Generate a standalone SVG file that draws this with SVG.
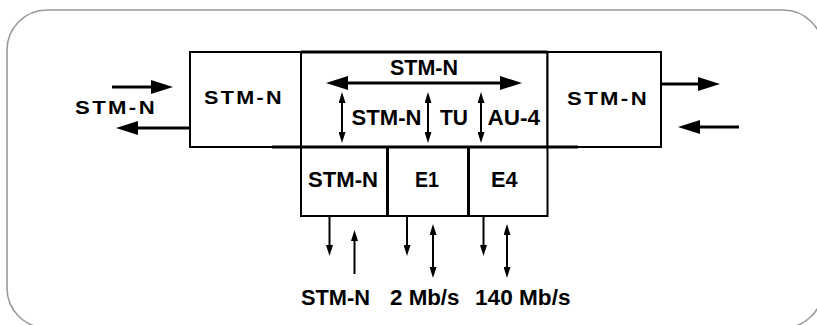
<svg xmlns="http://www.w3.org/2000/svg" width="817" height="325" viewBox="0 0 817 325">
<style>
.frame{fill:none;stroke:#999;stroke-width:1.6}
.box{fill:#fff;stroke:#000;stroke-width:2}
.thick{stroke:#000;stroke-width:3;fill:none}
.t{font-family:"Liberation Sans",Arial,Helvetica,sans-serif;font-weight:bold;fill:#000}
.sp{font-size:18.5px;letter-spacing:2px}
.n{font-size:21.5px}
.big{stroke:#000;stroke-width:3;fill:none}
.sm{stroke:#000;stroke-width:2;fill:none}
</style>
<defs>
<marker id="bh" viewBox="0 0 22 14" refX="14" refY="7" markerWidth="22" markerHeight="14" markerUnits="userSpaceOnUse" orient="auto-start-reverse">
<path d="M0,0 L22,7 L0,14 z" fill="#000"/>
</marker>
<marker id="sh" viewBox="0 0 11 7" refX="5" refY="3.5" markerWidth="11" markerHeight="7" markerUnits="userSpaceOnUse" orient="auto-start-reverse">
<path d="M0,0 L11,3.5 L0,7 z" fill="#000"/>
</marker>
</defs>
<rect class="frame" x="7" y="10" width="816" height="318" rx="40" ry="40"/>

<g id="node-left">
<rect class="box" x="190" y="52" width="111" height="95"/>
<text class="t sp" x="204" y="104" textLength="80" lengthAdjust="spacingAndGlyphs">STM-N</text>
</g>
<g id="node-middle">
<rect class="box" x="301" y="52" width="246.5" height="95"/>
<line class="thick" x1="301" y1="52" x2="547.5" y2="52"/>
<text class="t n" x="390" y="75" textLength="68" lengthAdjust="spacingAndGlyphs">STM-N</text>
<text class="t n" x="351.5" y="125" textLength="70" lengthAdjust="spacingAndGlyphs">STM-N</text>
<text class="t n" x="440" y="125" textLength="28" lengthAdjust="spacingAndGlyphs">TU</text>
<text class="t n" x="487.5" y="125" textLength="52.5" lengthAdjust="spacingAndGlyphs">AU-4</text>
</g>
<g id="node-right">
<rect class="box" x="547.5" y="52" width="113.5" height="95"/>
<text class="t sp" x="567" y="105" textLength="82" lengthAdjust="spacingAndGlyphs">STM-N</text>
</g>
<g id="node-trib-stm">
<rect class="box" x="301" y="147" width="86.5" height="69"/>
<text class="t n" x="308" y="187" textLength="70" lengthAdjust="spacingAndGlyphs">STM-N</text>
</g>
<g id="node-e1">
<rect class="box" x="387.5" y="147" width="81" height="69"/>
<text class="t n" x="415" y="187" textLength="24" lengthAdjust="spacingAndGlyphs">E1</text>
</g>
<g id="node-e4">
<rect class="box" x="468.5" y="147" width="79" height="69"/>
<text class="t n" x="491" y="187" textLength="26.5" lengthAdjust="spacingAndGlyphs">E4</text>
</g>
<g id="dividers">
<line class="thick" x1="272" y1="147" x2="578" y2="147"/>
<line class="thick" x1="387.5" y1="147" x2="387.5" y2="216"/>
<line class="thick" x1="468.5" y1="147" x2="468.5" y2="216"/>
</g>

<g id="labels">
<text class="t sp" x="75" y="114" textLength="82" lengthAdjust="spacingAndGlyphs">STM-N</text>
<text class="t n" x="301" y="305" textLength="69" lengthAdjust="spacingAndGlyphs">STM-N</text>
<text class="t n" x="390" y="305" textLength="69.5" lengthAdjust="spacingAndGlyphs">2 Mb/s</text>
<text class="t n" x="475" y="305" textLength="95.5" lengthAdjust="spacingAndGlyphs">140 Mb/s</text>
</g>

<g id="connectors">
<line class="big" x1="112" y1="87" x2="165" y2="87" marker-end="url(#bh)"/>
<line class="big" x1="190" y1="128" x2="124" y2="128" marker-end="url(#bh)"/>
<line class="big" x1="661" y1="84" x2="712" y2="84" marker-end="url(#bh)"/>
<line class="big" x1="739" y1="127" x2="686" y2="127" marker-end="url(#bh)"/>
<line class="big" x1="334" y1="83" x2="514" y2="83" marker-start="url(#bh)" marker-end="url(#bh)"/>
<line class="sm" x1="342" y1="98" x2="342" y2="137" marker-start="url(#sh)" marker-end="url(#sh)"/>
<line class="sm" x1="428" y1="98" x2="428" y2="137" marker-start="url(#sh)" marker-end="url(#sh)"/>
<line class="sm" x1="481" y1="98" x2="481" y2="137" marker-start="url(#sh)" marker-end="url(#sh)"/>
<line class="sm" x1="329.5" y1="216" x2="329.5" y2="250" marker-end="url(#sh)"/>
<line class="sm" x1="354.5" y1="274" x2="354.5" y2="236" marker-end="url(#sh)"/>
<line class="sm" x1="407" y1="216" x2="407" y2="250" marker-end="url(#sh)"/>
<line class="sm" x1="433" y1="230" x2="433" y2="272" marker-start="url(#sh)" marker-end="url(#sh)"/>
<line class="sm" x1="483.5" y1="216" x2="483.5" y2="250" marker-end="url(#sh)"/>
<line class="sm" x1="507" y1="230" x2="507" y2="272" marker-start="url(#sh)" marker-end="url(#sh)"/>
</g>
</svg>
